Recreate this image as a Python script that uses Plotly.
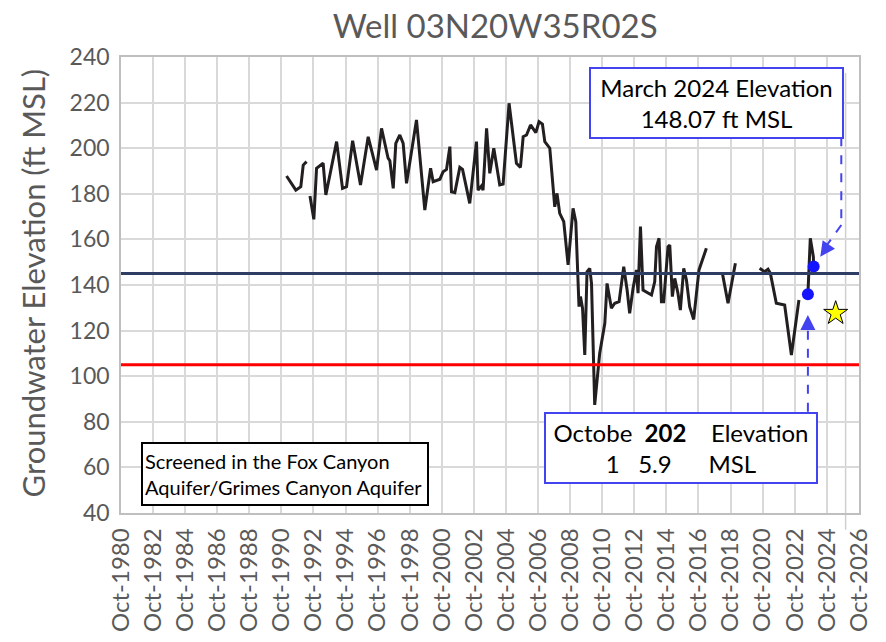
import plotly.graph_objects as go
from datetime import datetime

# ---------------- data (decimal years, ft MSL) ----------------
seg_a_yr = [1991.07, 1991.65, 1991.96, 1992.11, 1992.32]
seg_a_ft = [187.8, 181.6, 183.1, 192.6, 194.1]

seg_b_yr = [1992.53, 1992.77, 1992.94, 1993.35, 1993.52, 1994.19, 1994.56, 1994.81, 1995.19, 1995.68,
            1996.16, 1996.68, 1996.99, 1997.40, 1997.51, 1997.72, 1997.88, 1998.13, 1998.34, 1998.55,
            1999.17, 1999.69, 2000.05, 2000.21, 2000.63, 2000.83, 2001.04, 2001.25, 2001.35, 2001.56,
            2001.87, 2002.04, 2002.49, 2002.91, 2003.01, 2003.22, 2003.32, 2003.54, 2003.74, 2003.99,
            2004.36, 2004.57, 2004.94, 2005.40, 2005.65, 2005.82, 2006.03, 2006.28, 2006.61, 2006.81,
            2007.02, 2007.17, 2007.48, 2007.58, 2007.68, 2007.79, 2007.93, 2008.10, 2008.35, 2008.62,
            2008.93, 2009.10, 2009.30, 2009.39, 2009.52, 2009.66, 2009.80, 2009.97, 2010.08, 2010.28,
            2010.59, 2010.91, 2011.05, 2011.32, 2011.53, 2011.80, 2012.09, 2012.30, 2012.46, 2012.67,
            2012.88, 2012.98, 2013.13, 2013.29, 2013.82, 2014.02, 2014.13, 2014.29, 2014.44, 2014.58,
            2014.85, 2014.96, 2015.12, 2015.27, 2015.47, 2015.62, 2015.83, 2016.00, 2016.20, 2016.45,
            2016.78, 2017.24]
seg_b_ft = [179, 168.8, 191.2, 193.4, 179.5, 202.9, 182.4, 183.1, 203.3, 183.9,
            205, 190.4, 208.7, 195.6, 194.5, 182.4, 202.1, 205.8, 202.1, 184.6,
            212.4, 172.9, 191.2, 185.3, 186.4, 189.7, 190.7, 200.7, 180.9, 180.5,
            191.6, 190.7, 175.8, 202.9, 181.6, 183.4, 181.6, 208.7, 189, 200,
            183.9, 184.3, 219.7, 193.4, 191.6, 205, 205.8, 210.2, 206.8, 211.6,
            210.6, 202.9, 200, 191.9, 183.1, 174.3, 180.2, 171.4, 167.8, 148.8,
            173.6, 167.8, 130.5, 134.9, 129.8, 109.3, 145.8, 147.3, 140.7, 87.4,
            110, 123.2, 140.7, 129.8, 132, 132.7, 148, 137.8, 127.6, 138.6,
            146.6, 136.4, 165.6, 137.8, 135.6, 141.4, 156.8, 160.5, 132.7, 132.7,
            156.8, 157.5, 134.9, 142.9, 136.4, 129, 147.3, 142.2, 130.5, 124.9,
            146.6, 156.1]

seg_c_yr = [2018.24, 2018.59, 2019.05]
seg_c_ft = [145.1, 132, 149.5]

seg_d_yr = [2020.56, 2020.87, 2021.08, 2021.23, 2021.60, 2022.12, 2022.54, 2023.01]
seg_d_ft = [147.3, 145.8, 146.9, 145.1, 132, 131.2, 109.3, 133.4]

oct23_yr, oct23_ft = 2023.57, 135.9
mar24_yr, mar24_ft = 2023.93, 148.07
seg_e_yr = [oct23_yr, 2023.72, 2023.91, mar24_yr]
seg_e_ft = [oct23_ft, 160.5, 152.4, mar24_ft]

star_yr, star_ft = 2025.30, 127.6

navy_level = 145
red_level = 105

x_start, x_end = 1980.75, 2026.755
y_min, y_max, y_step = 40, 240, 20

# ---------------- helpers ----------------
def dy(y):
    year = int(y)
    frac = y - year
    a = datetime(year, 1, 1)
    b = datetime(year + 1, 1, 1)
    return (a + (b - a) * frac).strftime("%Y-%m-%d %H:%M")

segments = [(seg_a_yr, seg_a_ft), (seg_b_yr, seg_b_ft), (seg_c_yr, seg_c_ft),
            (seg_d_yr, seg_d_ft), (seg_e_yr, seg_e_ft)]
line_x, line_y = [], []
for xs, ys in segments:
    line_x += [dy(v) for v in xs] + [None]
    line_y += list(ys) + [None]

BLUE = "#4343F0"
GRID = "#D9D9D9"
GRAY_TXT = "#595959"
FONT = "Lato"

fig = go.Figure()
fig.add_trace(go.Scatter(x=line_x, y=line_y, mode="lines",
                         line=dict(color="#231F20", width=3), connectgaps=False,
                         hoverinfo="skip"))
fig.add_trace(go.Scatter(x=[dy(oct23_yr), dy(mar24_yr)], y=[oct23_ft, mar24_ft], mode="markers",
                         marker=dict(color="#1414FF", size=12)))
fig.add_trace(go.Scatter(x=[dy(star_yr)], y=[star_ft], mode="markers",
                         marker=dict(symbol="star", color="#FFFF00", size=18,
                                     line=dict(color="#000000", width=1))))

shapes = [
    dict(type="line", xref="paper", x0=0, x1=1, yref="y", y0=navy_level, y1=navy_level,
         line=dict(color="#2E3D63", width=3), layer="above"),
    dict(type="line", xref="paper", x0=0, x1=1, yref="y", y0=red_level, y1=red_level,
         line=dict(color="#FF0000", width=3), layer="above"),
    # thin vertical gray line near right edge
    dict(type="line", xref="x", x0=dy(2025.92), x1=dy(2025.92), yref="paper", y0=-0.037, y1=0.965,
         line=dict(color="#CFCFCF", width=1.5), layer="below"),
    # March arrow shaft (elbow)
    dict(type="line", xref="x", x0=dy(2025.65), x1=dy(2025.65), yref="y", y0=204.8, y1=166.3,
         line=dict(color=BLUE, width=2, dash="dash")),
    dict(type="line", xref="x", x0=dy(2025.65), x1=dy(2024.45), yref="y", y0=166.3, y1=154.5,
         line=dict(color=BLUE, width=2, dash="dash")),
    # October arrow shaft
    dict(type="line", xref="x", x0=dy(oct23_yr), x1=dy(oct23_yr), yref="y", y0=84.4, y1=124,
         line=dict(color=BLUE, width=2, dash="dash")),
]

nb = "\u00a0"
annotations = [
    dict(text="Groundwater Elevation (ft MSL)", textangle=-90, xref="paper", yref="paper",
         x=-0.118, y=0.5055, xanchor="center", yanchor="middle", showarrow=False,
         font=dict(size=31, color=GRAY_TXT, family=FONT)),
    dict(text="March 2024 Elevation<br>148.07 ft MSL", xref="paper", yref="paper",
         x=0.634, y=0.978, xanchor="left", yanchor="top", showarrow=False,
         width=247, height=64, align="center", valign="middle",
         bordercolor=BLUE, borderwidth=2, borderpad=2, bgcolor="white",
         font=dict(size=24, color="black", family=FONT)),
    dict(text="Octobe" + nb * 2 + "<b>202</b>" + nb * 4 + "Elevation<br>1" + nb * 3 + "5.9" + nb * 6 + "MSL",
         xref="paper", yref="paper", x=0.573, y=0.222, xanchor="left", yanchor="top", showarrow=False,
         width=266, height=64, align="center", valign="middle",
         bordercolor=BLUE, borderwidth=2, borderpad=2, bgcolor="white",
         font=dict(size=24, color="black", family=FONT)),
    dict(text="Screened in the Fox Canyon<br>Aquifer/Grimes Canyon Aquifer", xref="paper", yref="paper",
         x=0.0267, y=0.156, xanchor="left", yanchor="top", showarrow=False,
         width=280, height=56, align="left", valign="middle",
         bordercolor="black", borderwidth=2, borderpad=2, bgcolor="white",
         font=dict(size=20, color="black", family=FONT)),
    # arrowheads
    dict(text="", x=dy(2024.34), y=152.4, xref="x", yref="y", showarrow=True,
         ax=9, ay=-13, arrowhead=2, arrowsize=1.5, arrowwidth=2, arrowcolor=BLUE),
    dict(text="", x=dy(oct23_yr), y=126.8, xref="x", yref="y", showarrow=True,
         ax=0, ay=16, arrowhead=2, arrowsize=1.5, arrowwidth=2, arrowcolor=BLUE),
]

fig.update_layout(
    width=886, height=642,
    margin=dict(l=121, r=27, t=57, b=129, autoexpand=False),
    paper_bgcolor="white", plot_bgcolor="white",
    showlegend=False,
    font=dict(family=FONT, color=GRAY_TXT),
    title=dict(text="Well 03N20W35R02S", x=0.507, xref="paper", xanchor="center",
               y=1 - 26 / 642, yref="container", yanchor="middle", automargin=False,
               font=dict(size=33, color=GRAY_TXT, family=FONT)),
    shapes=shapes,
    annotations=annotations,
)
fig.update_xaxes(type="date", range=[dy(x_start), dy(x_end)], automargin=False,
                 tick0="1980-10-01", dtick="M24", tickformat="%b-%Y", tickangle=-90,
                 showgrid=True, gridcolor=GRID, gridwidth=1.5,
                 showline=True, linecolor="#BFBFBF", linewidth=1.5, mirror=True,
                 zeroline=False, ticks="", ticklabelstandoff=4,
                 tickfont=dict(size=24, color=GRAY_TXT, family=FONT))
fig.update_yaxes(range=[y_min, y_max], dtick=y_step, tick0=0, automargin=False,
                 showgrid=True, gridcolor=GRID, gridwidth=1.5,
                 showline=True, linecolor="#BFBFBF", linewidth=1.5, mirror=True,
                 zeroline=False, ticks="", ticklabelstandoff=5,
                 tickfont=dict(size=23, color=GRAY_TXT, family=FONT))

fig.write_html("out.html", config={"displayModeBar": False},
               post_script="document.body.style.margin='0';document.body.style.padding='0';")
